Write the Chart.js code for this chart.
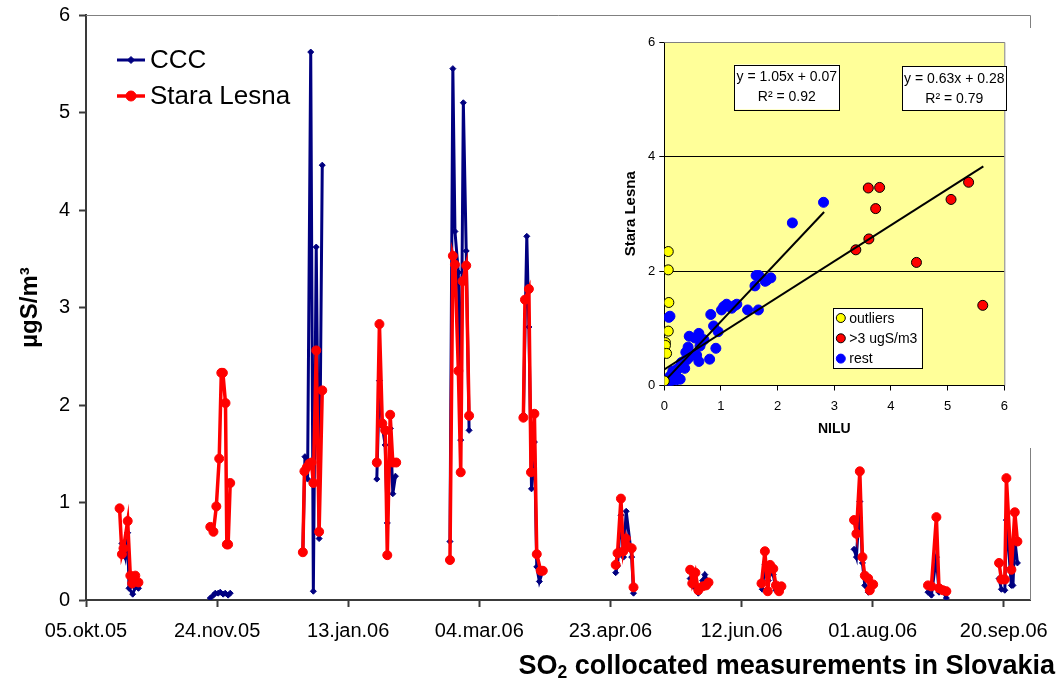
<!DOCTYPE html>
<html>
<head>
<meta charset="utf-8">
<script src="https://cdn.jsdelivr.net/npm/chart.js@4.4.1/dist/chart.umd.min.js"></script>
<style>
  html, body { margin: 0; padding: 0; background: #fff; }
  #wrap { position: relative; width: 1062px; height: 679px; font-family: Arial, "Liberation Sans", sans-serif; }
  #mainChart { position: absolute; left: 0; top: 0; }
  #insetBox { position: absolute; left: 612px; top: 28px; width: 430px; height: 420px; background: #fff; }
  #chartTitle { position: absolute; right: 7px; top: 652px; font-size: 27px; line-height: 27px; font-weight: bold; white-space: nowrap; color: #000; }
  #chartTitle sub { font-size: 65%; vertical-align: -0.25em; line-height: 0; }
</style>
</head>
<body>
<div id="wrap">
  <canvas id="mainChart" width="1062" height="679"></canvas>
  <div id="insetBox"><canvas id="insetChart" width="430" height="420"></canvas></div>
  <div id="chartTitle">SO<sub>2</sub> collocated measurements in Slovakia</div>
</div>
<script>
// ---- main time series (x = days after 05.okt.05) ----
const tickLabels = ['05.okt.05', '24.nov.05', '13.jan.06', '04.mar.06', '23.apr.06', '12.jun.06', '01.aug.06', '20.sep.06'];
const tickStepDays = 50;
const seriesNames = ['CCC', 'Stara Lesna'];

const cccDays = [
  13.7, 15.0, 15.9, 16.4, 17.8, 18.8, 20.0,
  47.4, 48.6, 49.3, 50.4, 51.2, 52.3, 53.1, 54.2, 55.0,
  82.7, 83.5, 84.5, 85.7, 86.7, 87.8, 88.9, 90.1,
  110.9, 111.9, 113.0, 114.1, 114.9, 116.1, 117.0, 118.0,
  138.8, 139.9, 140.7, 142.0, 142.9, 143.9, 145.0, 146.1,
  166.8, 168.1, 168.9, 169.9, 171.0, 171.9, 172.9, 174.2,
  202.0, 202.7, 204.0, 205.0, 206.0, 208.1, 208.8,
  230.4, 231.5, 233.5, 235.2, 236.0, 237.4,
  257.9, 258.9, 260.2, 260.9, 262.1, 263.1, 264.5,
  292.9, 293.8, 295.1, 296.1, 297.0, 298.3, 299.0, 300.2,
  321.1, 322.4, 324.3, 325.3, 326.8, 328.1,
  348.2, 349.1, 350.4, 351.0, 352.9, 353.5, 354.2, 355.2
];
const cccValues = [
  0.58, 0.44, 0.69, 0.12, 0.06, 0.13, 0.12,
  0.02, 0.05, 0.07, 0.07, 0.08, 0.06, 0.07, 0.05, 0.07,
  0.51, 1.47, 1.24, 5.62, 0.09, 3.62, 0.63, 4.46,
  1.24, 2.25, 1.78, 1.59, 0.79, 1.76, 1.09, 1.27,
  0.60, 5.45, 3.78, 3.36, 1.64, 5.10, 3.58, 1.74,
  1.90, 3.73, 2.80, 1.14, 1.62, 0.34, 0.19, 0.30,
  0.28, 0.35, 0.87, 0.44, 0.91, 0.44, 0.07,
  0.22, 0.14, 0.07, 0.20, 0.26, 0.17,
  0.11, 0.36, 0.20, 0.29, 0.26, 0.10, 0.11,
  0.52, 0.44, 1.01, 0.38, 0.15, 0.08, 0.12, 0.14,
  0.08, 0.05, 0.44, 0.08, 0.09, 0.02,
  0.22, 0.11, 0.10, 0.82, 0.15, 0.15, 0.62, 0.38
];

const slDays = [
  12.8, 13.7, 14.3, 15.9, 16.9, 17.6, 18.8, 20.0,
  47.4, 48.6, 49.7, 50.8, 51.6, 52.2, 53.2, 53.7, 54.2, 55.0,
  82.7, 83.3, 84.2, 85.2, 86.0, 86.7, 87.8, 88.9, 90.1,
  110.9, 111.9, 113.0, 114.1, 114.9, 116.0, 117.0, 118.3,
  138.8, 139.9, 140.7, 142.0, 142.9, 143.6, 145.0, 146.1,
  166.8, 167.4, 168.9, 169.7, 171.0, 171.9, 173.4, 174.2,
  202.0, 202.7, 204.0, 204.9, 205.9, 206.5, 208.1, 208.8,
  230.4, 231.2, 232.4, 233.5, 235.2, 236.5, 237.4,
  257.6, 258.9, 260.0, 260.9, 262.1, 263.1, 264.3, 265.2,
  292.9, 293.8, 295.1, 296.1, 297.0, 298.3, 298.9, 300.2,
  321.1, 322.4, 324.3, 325.3, 326.8, 328.1,
  348.2, 349.1, 350.4, 351.0, 352.9, 354.2, 355.2
];
const slValues = [
  0.94, 0.47, 0.53, 0.81, 0.25, 0.17, 0.25, 0.18,
  0.75, 0.70, 0.96, 1.45, 2.33, 2.33, 2.02, 0.57, 0.57, 1.20,
  0.49, 1.32, 1.36, 1.40, 1.41, 1.20, 2.56, 0.70, 2.15,
  1.41, 2.83, 1.81, 1.74, 0.46, 1.90, 1.41, 1.41,
  0.41, 3.53, 3.44, 2.35, 1.31, 3.27, 3.43, 1.89,
  1.87, 3.08, 3.19, 1.31, 1.91, 0.47, 0.30, 0.30,
  0.36, 0.48, 1.04, 0.50, 0.63, 0.55, 0.53, 0.13,
  0.31, 0.17, 0.28, 0.10, 0.14, 0.15, 0.18,
  0.17, 0.50, 0.09, 0.36, 0.32, 0.15, 0.09, 0.14,
  0.82, 0.68, 1.32, 0.44, 0.25, 0.22, 0.10, 0.16,
  0.15, 0.14, 0.85, 0.12, 0.10, 0.09,
  0.38, 0.21, 0.21, 1.25, 0.31, 0.90, 0.60
];

// ---- inset scatter: NILU (x) vs Stara Lesna (y) ----
const insetLegendLabels = ['outliers', '>3 ugS/m3', 'rest'];
const outlierNilu  = [0.07, 0.07, 0.08, 0.07, 0.02, 0.02, 0.04, 0.00];
const outlierStara = [2.34, 2.02, 1.45, 0.95, 0.75, 0.70, 0.56, 0.08];
const highNilu  = [3.60, 3.80, 3.73, 5.06, 5.37, 3.61, 3.38, 4.45, 5.62];
const highStara = [3.45, 3.46, 3.09, 3.25, 3.55, 2.56, 2.37, 2.15, 1.40];
const restNilu  = [2.81, 2.26, 1.62, 1.67, 1.81, 1.88, 1.78, 1.60, 1.47, 1.66, 1.01, 1.10, 1.19, 1.28, 0.82, 0.10, 0.08,
                   0.87, 0.95, 0.61, 0.44, 0.54, 0.91, 0.63, 0.42, 0.38, 0.57, 0.61, 0.80, 0.34, 0.25, 0.36, 0.15,
                   0.10, 0.18, 0.28, 0.07, 0.12, 0.21, 0.05, 0.20, 0.30, 0.45, 0.50, 0.40, 0.65, 0.70, 1.05, 1.15,
                   1.25, 0.30, 0.22];
const restStara = [3.20, 2.84, 1.92, 1.92, 1.84, 1.88, 1.82, 1.74, 1.32, 1.32, 1.32, 1.42, 1.35, 1.42, 1.24, 1.21, 1.19,
                   1.04, 0.94, 0.91, 0.86, 0.83, 0.65, 0.69, 0.67, 0.58, 0.53, 0.42, 0.46, 0.42, 0.30, 0.30, 0.25,
                   0.16, 0.19, 0.11, 0.11, 0.08, 0.10, 0.05, 0.20, 0.35, 0.50, 0.55, 0.45, 0.75, 0.80, 1.38, 1.38,
                   1.40, 0.40, 0.28];
const fitSlopes = [1.05, 0.63];
const fitIntercepts = [0.07, 0.28];
const fitXFrom = [0.06, 0.00];
const fitXTo = [2.82, 5.63];
const fitTexts = [['y = 1.05x + 0.07', 'R² = 0.92'], ['y = 0.63x + 0.28', 'R² = 0.79']];

const FONT = 'Arial, "Liberation Sans", sans-serif';
Chart.defaults.font.family = FONT;
Chart.defaults.color = '#000';

const toPoints = (xs, ys) => xs.map((x, i) => ({ x: x, y: ys[i] }));
// break the line between measurement campaigns
const gapSegment = { borderColor: c => (c.p1.parsed.x - c.p0.parsed.x > 6 ? 'rgba(0,0,0,0)' : undefined) };
// keep the plot area where it is: no extra room for half tick labels
const noLabelPadding = s => { s.paddingTop = 0; s.paddingBottom = 0; s.paddingLeft = 0; s.paddingRight = 0; };

const mainDecor = {
  id: 'mainDecor',
  beforeDatasetsDraw(chart) {
    const { ctx, chartArea: a } = chart;
    ctx.save();
    ctx.strokeStyle = '#808080';
    ctx.lineWidth = 1;
    ctx.beginPath();
    ctx.moveTo(a.left, a.top + 0.5);
    ctx.lineTo(a.right + 0.5, a.top + 0.5);
    ctx.lineTo(a.right + 0.5, a.bottom);
    ctx.stroke();
    ctx.restore();
  },
  afterDraw(chart) {
    const ctx = chart.ctx;
    ctx.save();
    chart.data.datasets.forEach((ds, i) => {
      const y = 60 + i * 36;
      ctx.strokeStyle = ds.borderColor;
      ctx.lineWidth = ds.borderWidth;
      ctx.beginPath(); ctx.moveTo(117, y); ctx.lineTo(145, y); ctx.stroke();
      ctx.fillStyle = ds.pointBackgroundColor;
      ctx.strokeStyle = ds.pointBorderColor;
      ctx.lineWidth = 1;
      Chart.helpers.drawPoint(ctx, { pointStyle: ds.pointStyle, radius: ds.pointRadius + 0.5, rotation: 0, borderWidth: 1 }, 131, y);
      ctx.fillStyle = '#000';
      ctx.font = '26px ' + FONT;
      ctx.textBaseline = 'middle';
      ctx.fillText(ds.label, 150, y + 1);
    });
    ctx.restore();
  }
};

new Chart(document.getElementById('mainChart'), {
  type: 'line',
  data: {
    datasets: [
      {
        label: seriesNames[0], data: toPoints(cccDays, cccValues), order: 2,
        borderColor: '#000080', borderWidth: 3, tension: 0, segment: gapSegment,
        pointStyle: 'rectRot', pointRadius: 3, pointBackgroundColor: '#000080', pointBorderColor: '#000080', pointBorderWidth: 1
      },
      {
        label: seriesNames[1], data: toPoints(slDays, slValues), order: 1,
        borderColor: '#FF0000', borderWidth: 3.5, tension: 0, segment: gapSegment,
        pointStyle: 'circle', pointRadius: 4.5, pointBackgroundColor: '#FF0000', pointBorderColor: '#FF0000', pointBorderWidth: 1
      }
    ]
  },
  options: {
    responsive: false, animation: false, events: [],
    layout: { padding: { left: 0, top: 15, right: 32, bottom: 0 } },
    plugins: { legend: { display: false }, tooltip: { enabled: false } },
    scales: {
      x: {
        type: 'linear', min: 0, max: 360,
        ticks: {
          stepSize: tickStepDays, includeBounds: false, maxRotation: 0, autoSkip: false,
          font: { size: 20 }, color: '#000', padding: 12,
          callback: v => tickLabels[Math.round(v / tickStepDays)]
        },
        grid: { drawOnChartArea: false, drawTicks: true, tickLength: 7, tickColor: '#3a3a3a', tickWidth: 2 },
        border: { color: '#3a3a3a', width: 2 },
        afterFit: s => { s.height = 79; noLabelPadding(s); }
      },
      y: {
        min: 0, max: 6,
        ticks: { stepSize: 1, font: { size: 20 }, color: '#000', padding: 9 },
        grid: { drawOnChartArea: false, drawTicks: true, tickLength: 7, tickColor: '#3a3a3a', tickWidth: 2 },
        border: { color: '#3a3a3a', width: 2 },
        title: { display: true, text: 'µgS/m³', font: { size: 24, weight: 'bold' }, color: '#000', padding: { top: 16, bottom: 0 } },
        afterFit: s => { s.width = 86; noLabelPadding(s); }
      }
    }
  },
  plugins: [mainDecor]
});

// ---- inset ----
const insetDecor = {
  id: 'insetDecor',
  beforeDraw(chart) {
    const { ctx, chartArea: a } = chart;
    ctx.save();
    ctx.fillStyle = '#FFFF99';
    ctx.fillRect(a.left, a.top, a.right - a.left, a.bottom - a.top);
    ctx.restore();
  },
  beforeDatasetsDraw(chart) {
    const { ctx, chartArea: a } = chart;
    ctx.save();
    ctx.strokeStyle = '#808080';
    ctx.lineWidth = 1;
    ctx.beginPath();
    ctx.moveTo(a.left, a.top + 0.5);
    ctx.lineTo(a.right + 0.5, a.top + 0.5);
    ctx.lineTo(a.right + 0.5, a.bottom);
    ctx.stroke();
    ctx.restore();
  },
  afterDraw(chart) {
    const { ctx, chartArea: a } = chart;
    ctx.save();
    ctx.font = '14px ' + FONT;
    ctx.textBaseline = 'middle';
    // regression label boxes
    const boxes = [{ x: a.left + 70, y: a.top + 22.5, w: 105, h: 45 }, { x: a.left + 238, y: a.top + 24, w: 104, h: 44 }];
    boxes.forEach((b, i) => {
      ctx.fillStyle = '#fff';
      ctx.fillRect(b.x, b.y, b.w, b.h);
      ctx.strokeStyle = '#000'; ctx.lineWidth = 1;
      ctx.strokeRect(Math.round(b.x) + 0.5, Math.round(b.y) + 0.5, b.w, b.h);
      ctx.fillStyle = '#000';
      ctx.textAlign = 'center';
      ctx.fillText(fitTexts[i][0], b.x + b.w / 2, b.y + 13);
      ctx.fillText(fitTexts[i][1], b.x + b.w / 2, b.y + 33);
    });
    // legend
    const lb = { x: a.left + 168.5, y: a.top + 266, w: 89, h: 60 };
    ctx.fillStyle = '#fff';
    ctx.fillRect(lb.x, lb.y, lb.w, lb.h);
    ctx.strokeStyle = '#000';
    ctx.strokeRect(Math.round(lb.x) + 0.5, Math.round(lb.y) + 0.5, lb.w, lb.h);
    ctx.textAlign = 'left';
    const pointSets = chart.data.datasets.filter(d => !d.showLine);
    pointSets.forEach((d, i) => {
      const cy = lb.y + 10 + i * 20.3;
      ctx.fillStyle = d.backgroundColor;
      ctx.strokeStyle = d.borderColor;
      ctx.lineWidth = 1;
      Chart.helpers.drawPoint(ctx, { pointStyle: 'circle', radius: 4.5, rotation: 0, borderWidth: 1 }, lb.x + 8, cy);
      ctx.fillStyle = '#000';
      ctx.fillText(d.label, lb.x + 16.5, cy + 1);
    });
    ctx.restore();
  }
};

const fitPoints = i => [
  { x: fitXFrom[i], y: fitSlopes[i] * fitXFrom[i] + fitIntercepts[i] },
  { x: fitXTo[i], y: fitSlopes[i] * fitXTo[i] + fitIntercepts[i] }
];

new Chart(document.getElementById('insetChart'), {
  type: 'scatter',
  data: {
    datasets: [
      { label: 'fit rest', data: fitPoints(0), showLine: true, borderColor: '#000', borderWidth: 2, pointRadius: 0, order: 0 },
      { label: 'fit all', data: fitPoints(1), showLine: true, borderColor: '#000', borderWidth: 2, pointRadius: 0, order: 0 },
      { label: insetLegendLabels[0], data: toPoints(outlierNilu, outlierStara), showLine: false, backgroundColor: '#FFFF00', borderColor: '#000', borderWidth: 1, pointRadius: 5, order: 1 },
      { label: insetLegendLabels[1], data: toPoints(highNilu, highStara), showLine: false, backgroundColor: '#FF0000', borderColor: '#000', borderWidth: 1, pointRadius: 5, order: 1 },
      { label: insetLegendLabels[2], data: toPoints(restNilu, restStara), showLine: false, backgroundColor: '#0000FF', borderColor: '#0000FF', borderWidth: 1, pointRadius: 5, order: 2 }
    ]
  },
  options: {
    responsive: false, animation: false, events: [],
    layout: { padding: { left: 0, top: 14, right: 37.7, bottom: 0 } },
    plugins: { legend: { display: false }, tooltip: { enabled: false } },
    scales: {
      x: {
        type: 'linear', min: 0, max: 6,
        ticks: { stepSize: 1, font: { size: 13 }, color: '#000', padding: 8, maxRotation: 0 },
        grid: { drawOnChartArea: false, tickLength: 5, tickColor: '#000' },
        border: { color: '#000', width: 1 },
        title: { display: true, text: 'NILU', font: { size: 14, weight: 'bold' }, color: '#000', padding: { top: 0, bottom: 10 } },
        afterFit: s => { s.height = 62.5; noLabelPadding(s); }
      },
      y: {
        min: 0, max: 6,
        ticks: { stepSize: 2, font: { size: 13 }, color: '#000', padding: 4 },
        grid: {
          color: c => (c.tick && (c.tick.value === 2 || c.tick.value === 4) ? '#000' : 'rgba(0,0,0,0)'),
          tickColor: '#000', tickLength: 5
        },
        border: { color: '#000', width: 1 },
        title: { display: true, text: 'Stara Lesna', font: { size: 15, weight: 'bold' }, color: '#000', padding: { top: 10, bottom: 0 } },
        afterFit: s => { s.width = 52.3; noLabelPadding(s); }
      }
    }
  },
  plugins: [insetDecor]
});
</script>
</body>
</html>
